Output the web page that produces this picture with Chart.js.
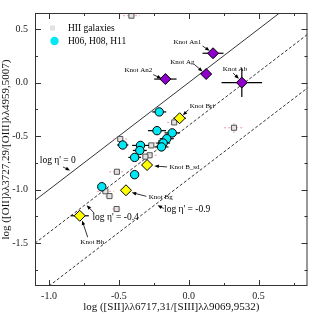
<!DOCTYPE html>
<html>
<head>
<meta charset="utf-8">
<script src="https://cdn.jsdelivr.net/npm/chart.js@4"></script>
<style>
  html, body { margin: 0; padding: 0; background: #fff; }
  #wrap { width: 314px; height: 314px; }
</style>
</head>
<body>
<div id="wrap"><canvas id="c" width="314" height="314"></canvas></div>
<script>
// HII galaxies (grey squares)
const hiiX = [-0.41, -0.49, -0.268, -0.197, -0.104, 0.324, -0.28, -0.31, -0.514, -0.596, -0.567, -0.516];
const hiiY = [0.625, -0.527, -0.587, -0.5625, -0.372, -0.422, -0.679, -0.692, -0.833, -1.015, -1.06, -1.181];
const hiiErrX = [0.06, 0.05, 0.05, 0.05, 0.05, 0.07, 0.05, 0.05, 0.055, 0.06, 0.03, 0.03];
const hiiErrY = [0, 0, 0, 0, 0, 0.05, 0, 0, 0, 0, 0, 0];

// H06, H08, H11 (cyan circles)
const hX = [-0.211, -0.227, -0.118, -0.157, -0.183, -0.195, -0.472, -0.345, -0.35, -0.387, -0.387, -0.622];
const hY = [-0.274, -0.449, -0.47, -0.524, -0.565, -0.601, -0.583, -0.587, -0.634, -0.699, -0.86, -0.973];
const hErrX = [0.05, 0.065, 0.055, 0.05, 0.05, 0.05, 0.04, 0.06, 0.05, 0.045, 0.0, 0.0];

// knots
const knotNames = ['Knot An1', 'Knot Ag', 'Knot Ab', 'Knot An2', 'Knot Bri', 'Knot B_sd', 'Knot Bg', 'Knot Bh'];
const knotX = [0.174, 0.125, 0.38, -0.167, -0.065, -0.298, -0.449, -0.78];
const knotY = [0.274, 0.08, 0.0, 0.033, -0.333, -0.77, -1.006, -1.244];
const knotErrX = [0.075, 0.035, 0.145, 0.08, 0.045, 0.035, 0.025, 0.065];
const knotErrY = [0, 0, 0.135, 0, 0, 0, 0, 0];
const knotGroup = ['A', 'A', 'A', 'A', 'B', 'B', 'B', 'B'];

// log eta' = const lines
const etaNames = ["log \u03b7' = 0", "log \u03b7' = -0.4", "log \u03b7' = -0.9"];
const etaLineX = [[-1.1, 0.7], [-1.1, 0.9], [-1.0, 0.9]];
const etaLineY = [[-1.1, 0.7], [-1.5, 0.5], [-1.9, 0.0]];

const xMajor = [-1.0, -0.5, 0.0, 0.5];
const xMinor = [-0.75, -0.25, 0.25, 0.75];
const yMajor = [-1.5, -1.0, -0.5, 0.0, 0.5];
const yMinor = [-1.75, -1.25, -0.75, -0.25, 0.25];

// label text at / arrow from -> to, in data units
const notes = [
  { text: 'Knot An1', at: [-0.01, 0.375], from: [0.099, 0.342], to: [0.15, 0.297], size: 7 },
  { text: 'Knot Ag', at: [-0.045, 0.1875], from: [0.04, 0.17], to: [0.099, 0.104], size: 7 },
  { text: 'Knot Ab', at: [0.331, 0.125], from: [0.317, 0.089], to: [0.359, 0.036], size: 7 },
  { text: 'Knot An2', at: [-0.36, 0.113], from: [-0.254, 0.074], to: [-0.195, 0.038], size: 7 },
  { text: 'Knot Bri', at: [0.095, -0.223], from: [-0.002, -0.253], to: [-0.042, -0.306], size: 7 },
  { text: 'Knot B_sd', at: [-0.03, -0.786], from: [-0.155, -0.788], to: [-0.246, -0.779], size: 7 },
  { text: 'Knot Bg', at: [-0.2, -1.071], from: [-0.303, -1.0625], to: [-0.408, -1.027], size: 7 },
  { text: 'Knot Bh', at: [-0.69, -1.491], from: [-0.723, -1.444], to: [-0.763, -1.288], size: 7 },
  { text: etaNames[0], at: [-0.937, -0.732], from: [-0.9, -0.788], to: [-0.849, -0.821], size: 9.5 },
  { text: etaNames[1], at: [-0.523, -1.256], from: [-0.676, -1.22], to: [-0.73, -1.146], size: 9.5 },
  { text: etaNames[2], at: [-0.011, -1.185], from: [-0.178, -1.176], to: [-0.223, -1.146], size: 9.5 }
];

const SERIF = "'Liberation Serif', 'DejaVu Serif', serif";
const pts = (xs, ys) => xs.map((x, i) => ({ x: x, y: ys[i] }));

const datasets = [];
['A', 'B'].forEach(g => {
  const idx = knotGroup.map((k, i) => k === g ? i : -1).filter(i => i >= 0);
  datasets.push({
    data: idx.map(i => ({ x: knotX[i], y: knotY[i] })),
    errX: idx.map(i => knotErrX[i]), errY: idx.map(i => knotErrY[i]),
    errColor: '#000', errWidth: 1.2,
    pointStyle: 'rectRot', pointRadius: 5.5,
    pointBackgroundColor: g === 'A' ? '#9000cc' : '#ffff00',
    pointBorderColor: '#000', pointBorderWidth: 1
  });
});
datasets.push({
  data: pts(hX, hY), errX: hErrX, errColor: '#000', errWidth: 1.2,
  pointStyle: 'circle', pointRadius: 4.2,
  pointBackgroundColor: '#00e8f4', pointBorderColor: '#000', pointBorderWidth: 1
});
datasets.push({
  data: pts(hiiX, hiiY), errX: hiiErrX, errY: hiiErrY, errColor: '#e89aa6', errWidth: 1, errDash: [2, 2],
  pointStyle: 'rect', pointRadius: 3.6,
  pointBackgroundColor: '#e2e2e2', pointBorderColor: '#555', pointBorderWidth: 1
});
etaLineX.forEach((xs, i) => {
  datasets.push({
    data: pts(xs, etaLineY[i]), showLine: true, pointRadius: 0,
    borderColor: '#000', borderWidth: 0.8, borderDash: i === 0 ? [] : [3, 2]
  });
});

function arrow(ctx, x0, y0, x1, y1) {
  const a = Math.atan2(y1 - y0, x1 - x0);
  ctx.beginPath();
  ctx.moveTo(x0, y0);
  ctx.lineTo(x1 - 3 * Math.cos(a), y1 - 3 * Math.sin(a));
  ctx.stroke();
  ctx.beginPath();
  ctx.moveTo(x1, y1);
  ctx.lineTo(x1 - 4.5 * Math.cos(a) + 1.8 * Math.sin(a), y1 - 4.5 * Math.sin(a) - 1.8 * Math.cos(a));
  ctx.lineTo(x1 - 4.5 * Math.cos(a) - 1.8 * Math.sin(a), y1 - 4.5 * Math.sin(a) + 1.8 * Math.cos(a));
  ctx.closePath();
  ctx.fill();
}

const extras = {
  id: 'extras',
  beforeDatasetDraw(chart, args) {
    const ds = chart.data.datasets[args.index];
    if (!ds.errX) return;
    const { x: sx, y: sy } = chart.scales;
    const ctx = chart.ctx;
    ctx.save();
    ctx.strokeStyle = ds.errColor;
    ctx.lineWidth = ds.errWidth;
    ctx.setLineDash(ds.errDash || []);
    ds.data.forEach((p, i) => {
      const ex = ds.errX[i] || 0, ey = (ds.errY && ds.errY[i]) || 0;
      ctx.beginPath();
      if (ex) {
        ctx.moveTo(sx.getPixelForValue(p.x - ex), sy.getPixelForValue(p.y));
        ctx.lineTo(sx.getPixelForValue(p.x + ex), sy.getPixelForValue(p.y));
      }
      if (ey) {
        ctx.moveTo(sx.getPixelForValue(p.x), sy.getPixelForValue(p.y - ey));
        ctx.lineTo(sx.getPixelForValue(p.x), sy.getPixelForValue(p.y + ey));
      }
      ctx.stroke();
    });
    ctx.restore();
  },
  afterDraw(chart) {
    const { ctx, chartArea: a } = chart;
    const { x: sx, y: sy } = chart.scales;
    ctx.save();
    // frame and inward ticks on all sides
    ctx.strokeStyle = '#333';
    ctx.lineWidth = 1;
    ctx.strokeRect(a.left + 0.5, a.top + 0.5, a.right - a.left - 1, a.bottom - a.top - 1);
    ctx.beginPath();
    const tx = (v, len) => {
      const p = Math.round(sx.getPixelForValue(v)) + 0.5;
      ctx.moveTo(p, a.bottom); ctx.lineTo(p, a.bottom - len);
      ctx.moveTo(p, a.top); ctx.lineTo(p, a.top + len);
    };
    const ty = (v, len) => {
      const p = Math.round(sy.getPixelForValue(v)) + 0.5;
      ctx.moveTo(a.left, p); ctx.lineTo(a.left + len, p);
      ctx.moveTo(a.right, p); ctx.lineTo(a.right - len, p);
    };
    xMajor.forEach(v => tx(v, 6)); xMinor.forEach(v => tx(v, 3));
    yMajor.forEach(v => ty(v, 6)); yMinor.forEach(v => ty(v, 3));
    ctx.stroke();

    // legend
    const drawPt = Chart.helpers.drawPoint;
    ctx.lineWidth = 1;
    ctx.strokeStyle = '#555'; ctx.fillStyle = '#e2e2e2';
    drawPt(ctx, { pointStyle: 'rect', radius: 3.6, rotation: 0 }, a.left + 17.5, a.top + 15);
    ctx.strokeStyle = '#000'; ctx.fillStyle = '#00e8f4';
    drawPt(ctx, { pointStyle: 'circle', radius: 4.2, rotation: 0 }, a.left + 19.5, a.top + 28);
    ctx.fillStyle = '#000';
    ctx.font = '9.5px ' + SERIF;
    ctx.textBaseline = 'middle';
    ctx.fillText('HII galaxies', a.left + 33, a.top + 15);
    ctx.fillText('H06, H08, H11', a.left + 33, a.top + 28);

    // notes
    ctx.textAlign = 'center';
    ctx.lineWidth = 0.8;
    ctx.strokeStyle = '#000';
    notes.forEach(n => {
      ctx.font = n.size + 'px ' + SERIF;
      ctx.fillText(n.text, sx.getPixelForValue(n.at[0]), sy.getPixelForValue(n.at[1]));
      arrow(ctx, sx.getPixelForValue(n.from[0]), sy.getPixelForValue(n.from[1]),
        sx.getPixelForValue(n.to[0]), sy.getPixelForValue(n.to[1]));
    });
    ctx.restore();
  }
};

new Chart(document.getElementById('c'), {
  type: 'scatter',
  data: { datasets: datasets },
  options: {
    responsive: false,
    animation: false,
    layout: { padding: { top: 2, right: 3, left: 0, bottom: 0 } },
    plugins: { legend: { display: false }, tooltip: { enabled: false } },
    scales: {
      x: {
        min: -1.1, max: 0.85,
        grid: { display: false, drawTicks: false },
        border: { display: false },
        afterBuildTicks: s => { s.ticks = xMajor.map(v => ({ value: v })); },
        afterFit: s => { s.height = 28; },
        ticks: { padding: 4, color: '#222', font: { family: SERIF, size: 10 }, callback: v => v.toFixed(1) },
        title: { display: true, text: 'log ([SII]\u03bb\u03bb6717,31/[SIII]\u03bb\u03bb9069,9532)', color: '#111', padding: 0, font: { family: SERIF, size: 11 } }
      },
      y: {
        min: -1.9, max: 0.65,
        grid: { display: false, drawTicks: false },
        border: { display: false },
        afterBuildTicks: s => { s.ticks = yMajor.map(v => ({ value: v })); },
        afterFit: s => { s.width = 35; },
        ticks: { padding: 7, color: '#222', font: { family: SERIF, size: 10 }, callback: v => v.toFixed(1) },
        title: { display: true, text: 'log ([OII]\u03bb\u03bb3727,29/[OIII]\u03bb\u03bb4959,5007)', color: '#111', padding: 0, font: { family: SERIF, size: 11 } }
      }
    }
  },
  plugins: [extras]
});
</script>
</body>
</html>
